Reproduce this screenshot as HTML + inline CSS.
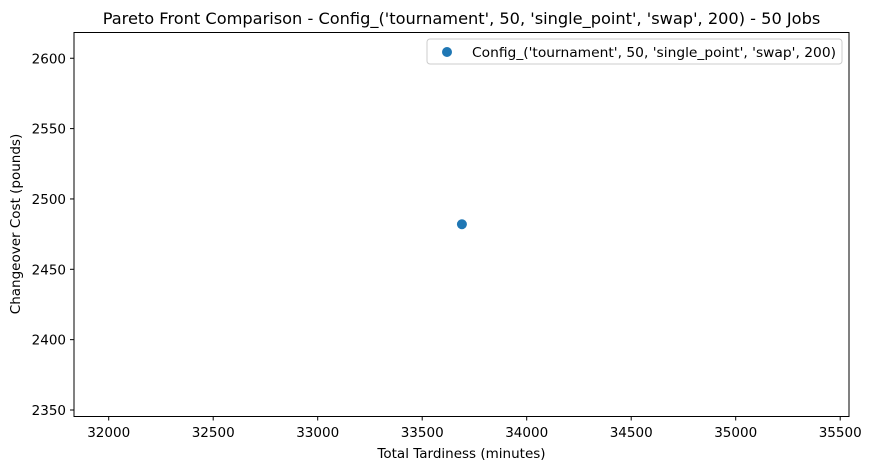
<!DOCTYPE html>
<html><head><meta charset="utf-8"><style>
html,body{margin:0;padding:0;background:#fff;}
svg{display:block;font-family:"DejaVu Sans","Liberation Sans",sans-serif;}
</style></head><body>
<svg id="chart" width="871" height="470" viewBox="0 0 871 470" xmlns="http://www.w3.org/2000/svg">
<rect width="871" height="470" fill="#fff"/>
<text x="461.5" y="24" text-anchor="middle" font-size="16.2" fill="#000">Pareto Front Comparison - Config_('tournament', 50, 'single_point', 'swap', 200) - 50 Jobs</text>
<g id="xticks"></g>
<g id="yticks"></g>
<g id="marks"></g>
<rect x="74" y="32.5" width="775" height="384" fill="none" stroke="#000" stroke-width="1"/>
<text x="461.5" y="458" text-anchor="middle" font-size="13.5" fill="#000">Total Tardiness (minutes)</text>
<text transform="translate(20,224) rotate(-90)" text-anchor="middle" font-size="13.5" fill="#000">Changeover Cost (pounds)</text>
<g>
<rect x="427" y="39" width="415" height="25" rx="3" fill="#fff" stroke="#ccc"/>
<circle cx="447" cy="52" r="5" fill="#1f77b4"/>
<text x="472" y="57" font-size="13.5" textLength="364" lengthAdjust="spacingAndGlyphs" fill="#000">Config_('tournament', 50, 'single_point', 'swap', 200)</text>
</g>
</svg>
<script>
const xTicks = [32000, 32500, 33000, 33500, 34000, 34500, 35000, 35500];
const yTicks = [2350, 2400, 2450, 2500, 2550, 2600];
const tardiness = [33690];
const cost = [2482];
const NS = "http://www.w3.org/2000/svg";
function xs(v){ return 108.7 + (v - 32000) / 500 * 104.5; }
function ys(v){ return 410 - (v - 2350) / 50 * 70.35; }
function mk(tag, attrs){ const e = document.createElementNS(NS, tag); for (const k in attrs) e.setAttribute(k, attrs[k]); return e; }
const gx = document.getElementById('xticks');
xTicks.forEach(t => {
  const x = xs(t);
  const l = mk('line', {x1:x, x2:x, y1:416.5, y2:420.5, stroke:'#000'});
  
  
  gx.appendChild(l);
  const tx = mk('text', {x:x, y:437, 'text-anchor':'middle', 'font-size':'13.5', fill:'#000'});
  
  
  tx.textContent = t;
  gx.appendChild(tx);
});
const gy = document.getElementById('yticks');
yTicks.forEach(t => {
  const y = ys(t);
  const l = mk('line', {x1:70, x2:74, y1:y, y2:y, stroke:'#000'});
  
  
  gy.appendChild(l);
  const tx = mk('text', {x:66, y:y + 5, 'text-anchor':'end', 'font-size':'13.5', fill:'#000'});
  
  
  tx.textContent = t;
  gy.appendChild(tx);
});
const gm = document.getElementById('marks');
tardiness.forEach((v, i) => {
  const c = mk('circle', {cx:xs(v), cy:ys(cost[i]), r:5, fill:'#1f77b4'});
  
  
  gm.appendChild(c);
});
</script>
</body></html>
